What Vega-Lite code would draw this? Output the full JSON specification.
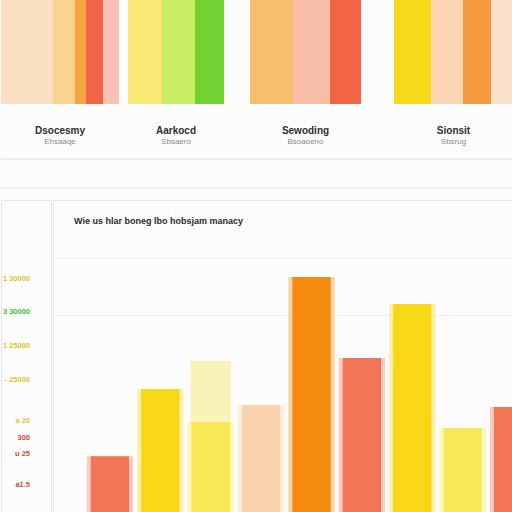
{
  "$schema": "https://vega.github.io/schema/vega-lite/v6.json",
  "padding": 0,
  "background": "#FCFCFC",
  "spacing": 12,
  "resolve": {"scale": {"color": "independent"}},
  "config": {
    "view": {"stroke": null},
    "font": "Liberation Sans",
    "title": {
      "orient": "bottom",
      "anchor": "middle",
      "offset": 22,
      "fontSize": 10,
      "fontWeight": "bold",
      "color": "#2E2E2E",
      "subtitleFontSize": 8,
      "subtitleColor": "#8A8A8A",
      "subtitlePadding": 2
    }
  },
  "vconcat": [
    {
      "spacing": 26,
      "resolve": {"scale": {"color": "independent"}},
      "hconcat": [
        {
          "spacing": 9,
          "resolve": {"scale": {"color": "independent"}},
          "hconcat": [
            {
              "width": 118,
              "height": 104,
              "title": {"text": "Dsocesmy", "subtitle": "Ehsaaqe"},
              "data": {"values": [
                {"group": "Dsocesmy", "segment": "d1", "rank": 1, "share": 52},
                {"group": "Dsocesmy", "segment": "d2", "rank": 2, "share": 22},
                {"group": "Dsocesmy", "segment": "d3", "rank": 3, "share": 11},
                {"group": "Dsocesmy", "segment": "d4", "rank": 4, "share": 17},
                {"group": "Dsocesmy", "segment": "d5", "rank": 5, "share": 16}
              ]},
              "mark": {"type": "bar"},
              "encoding": {
                "y": {"field": "group", "type": "nominal", "axis": null, "scale": {"paddingInner": 0, "paddingOuter": 0}},
                "x": {"field": "share", "type": "quantitative", "stack": "zero", "axis": null, "scale": {"domain": [0, 118], "nice": false}},
                "order": {"field": "rank"},
                "color": {"field": "segment", "type": "nominal", "legend": null,
                  "scale": {"domain": ["d1", "d2", "d3", "d4", "d5"], "range": ["#FBDFC3", "#FAD48E", "#F6A544", "#F26446", "#F9C2B2"]}}
              }
            },
            {
              "width": 96,
              "height": 104,
              "title": {"text": "Aarkocd", "subtitle": "Sbsaero"},
              "data": {"values": [
                {"group": "Aarkocd", "segment": "a1", "rank": 1, "share": 34},
                {"group": "Aarkocd", "segment": "a2", "rank": 2, "share": 33},
                {"group": "Aarkocd", "segment": "a3", "rank": 3, "share": 29}
              ]},
              "mark": {"type": "bar"},
              "encoding": {
                "y": {"field": "group", "type": "nominal", "axis": null, "scale": {"paddingInner": 0, "paddingOuter": 0}},
                "x": {"field": "share", "type": "quantitative", "stack": "zero", "axis": null, "scale": {"domain": [0, 96], "nice": false}},
                "order": {"field": "rank"},
                "color": {"field": "segment", "type": "nominal", "legend": null,
                  "scale": {"domain": ["a1", "a2", "a3"], "range": ["#F9E874", "#C9F064", "#72D232"]}}
              }
            }
          ]
        },
        {
          "spacing": 33,
          "resolve": {"scale": {"color": "independent"}},
          "hconcat": [
            {
              "width": 111,
              "height": 104,
              "title": {"text": "Sewoding", "subtitle": "Bsoaoeno"},
              "data": {"values": [
                {"group": "Sewoding", "segment": "s1", "rank": 1, "share": 43},
                {"group": "Sewoding", "segment": "s2", "rank": 2, "share": 37},
                {"group": "Sewoding", "segment": "s3", "rank": 3, "share": 31}
              ]},
              "mark": {"type": "bar"},
              "encoding": {
                "y": {"field": "group", "type": "nominal", "axis": null, "scale": {"paddingInner": 0, "paddingOuter": 0}},
                "x": {"field": "share", "type": "quantitative", "stack": "zero", "axis": null, "scale": {"domain": [0, 111], "nice": false}},
                "order": {"field": "rank"},
                "color": {"field": "segment", "type": "nominal", "legend": null,
                  "scale": {"domain": ["s1", "s2", "s3"], "range": ["#F7BE6C", "#F9BEA8", "#F26446"]}}
              }
            },
            {
              "width": 119,
              "height": 104,
              "title": {"text": "Sionsit", "subtitle": "Sbsrug"},
              "data": {"values": [
                {"group": "Sionsit", "segment": "n1", "rank": 1, "share": 37},
                {"group": "Sionsit", "segment": "n2", "rank": 2, "share": 32},
                {"group": "Sionsit", "segment": "n3", "rank": 3, "share": 28},
                {"group": "Sionsit", "segment": "n4", "rank": 4, "share": 22}
              ]},
              "mark": {"type": "bar"},
              "encoding": {
                "y": {"field": "group", "type": "nominal", "axis": null, "scale": {"paddingInner": 0, "paddingOuter": 0}},
                "x": {"field": "share", "type": "quantitative", "stack": "zero", "axis": null, "scale": {"domain": [0, 119], "nice": false}},
                "order": {"field": "rank"},
                "color": {"field": "segment", "type": "nominal", "legend": null,
                  "scale": {"domain": ["n1", "n2", "n3", "n4"], "range": ["#F8D91A", "#FBD6B4", "#F59B3E", "#FBE3CB"]}}
              }
            }
          ]
        }
      ]
    },
    {
      "spacing": 10,
      "resolve": {"scale": {"color": "independent"}},
      "vconcat": [
        {
          "width": 512,
          "height": 29,
          "data": {"values": [{"edge": 0}, {"edge": 1}]},
          "mark": {"type": "rule", "color": "#E8E8E8", "strokeWidth": 1.5},
          "encoding": {
            "y": {"field": "edge", "type": "quantitative", "axis": null, "scale": {"domain": [0, 1], "nice": false}}
          }
        },
        {
          "spacing": 0,
          "resolve": {"scale": {"color": "independent"}},
          "hconcat": [
            {
              "width": 50,
              "height": 312,
              "view": {"stroke": "#E6E6E6"},
              "data": {"values": [
                {"label": "1 30000", "level": 4130, "tone": "gold"},
                {"label": "3 30000", "level": 3545, "tone": "green"},
                {"label": "1 25000", "level": 2942, "tone": "gold"},
                {"label": "- 25000", "level": 2340, "tone": "gold"},
                {"label": "a 20", "level": 1613, "tone": "gold"},
                {"label": "300", "level": 1312, "tone": "red"},
                {"label": "u 25", "level": 1028, "tone": "red"},
                {"label": "a1.5", "level": 479, "tone": "red"}
              ]},
              "mark": {"type": "text", "align": "right", "baseline": "middle", "dx": 4, "fontSize": 7.5, "fontWeight": "bold"},
              "encoding": {
                "y": {"field": "level", "type": "quantitative", "axis": null, "scale": {"domain": [0, 5530], "nice": false}},
                "text": {"field": "label", "type": "nominal"},
                "color": {"field": "tone", "type": "nominal", "legend": null,
                  "scale": {"domain": ["gold", "green", "red"], "range": ["#E3C52C", "#3FBE3F", "#D04A3A"]}}
              }
            },
            {
              "width": 462,
              "height": 312,
              "view": {"stroke": "#E6E6E6"},
              "title": {
                "text": "Wie us hlar boneg lbo hobsjam manacy",
                "orient": "top",
                "anchor": "start",
                "offset": -26,
                "dx": 21,
                "fontSize": 9,
                "fontWeight": 600,
                "color": "#2B2B2B"
              },
              "data": {"values": [
                {"item": "A", "tone": "coral", "amount": 990},
                {"item": "B", "tone": "gold", "amount": 2180},
                {"item": "C", "tone": "lemon", "amount": 1595, "earlier": 2676},
                {"item": "D", "tone": "peach", "amount": 1896},
                {"item": "E", "tone": "orange", "amount": 4165},
                {"item": "F", "tone": "coral", "amount": 2729},
                {"item": "G", "tone": "gold", "amount": 3687},
                {"item": "H", "tone": "lemon", "amount": 1489},
                {"item": "I", "tone": "coral", "amount": 1861}
              ]},
              "encoding": {
                "x": {"field": "item", "type": "nominal", "axis": null,
                  "scale": {"range": [0, 517], "paddingInner": 0, "paddingOuter": 0.63}}
              },
              "layer": [
                {
                  "mark": {"type": "bar", "color": "#FAF3B8", "clip": true, "width": {"band": 0.8}},
                  "encoding": {
                    "y": {"field": "earlier", "type": "quantitative",
                      "scale": {"domain": [0, 5530], "nice": false},
                      "axis": {"values": [3500, 4500], "grid": true, "gridColor": "#EFEFEF", "labels": false, "ticks": false, "domain": false, "title": null}}
                  }
                },
                {
                  "mark": {"type": "bar", "clip": true, "opacity": 0.35, "width": {"band": 0.92}},
                  "encoding": {
                    "y": {"field": "amount", "type": "quantitative"},
                    "color": {"field": "tone", "type": "nominal", "legend": null,
                      "scale": {"domain": ["coral", "gold", "lemon", "peach", "orange"], "range": ["#F47556", "#F8D815", "#F8E856", "#FBD3AE", "#F58B0E"]}}
                  }
                },
                {
                  "mark": {"type": "bar", "clip": true, "width": {"band": 0.76}},
                  "encoding": {
                    "y": {"field": "amount", "type": "quantitative"},
                    "color": {"field": "tone", "type": "nominal", "legend": null}
                  }
                }
              ]
            }
          ]
        }
      ]
    }
  ]
}
